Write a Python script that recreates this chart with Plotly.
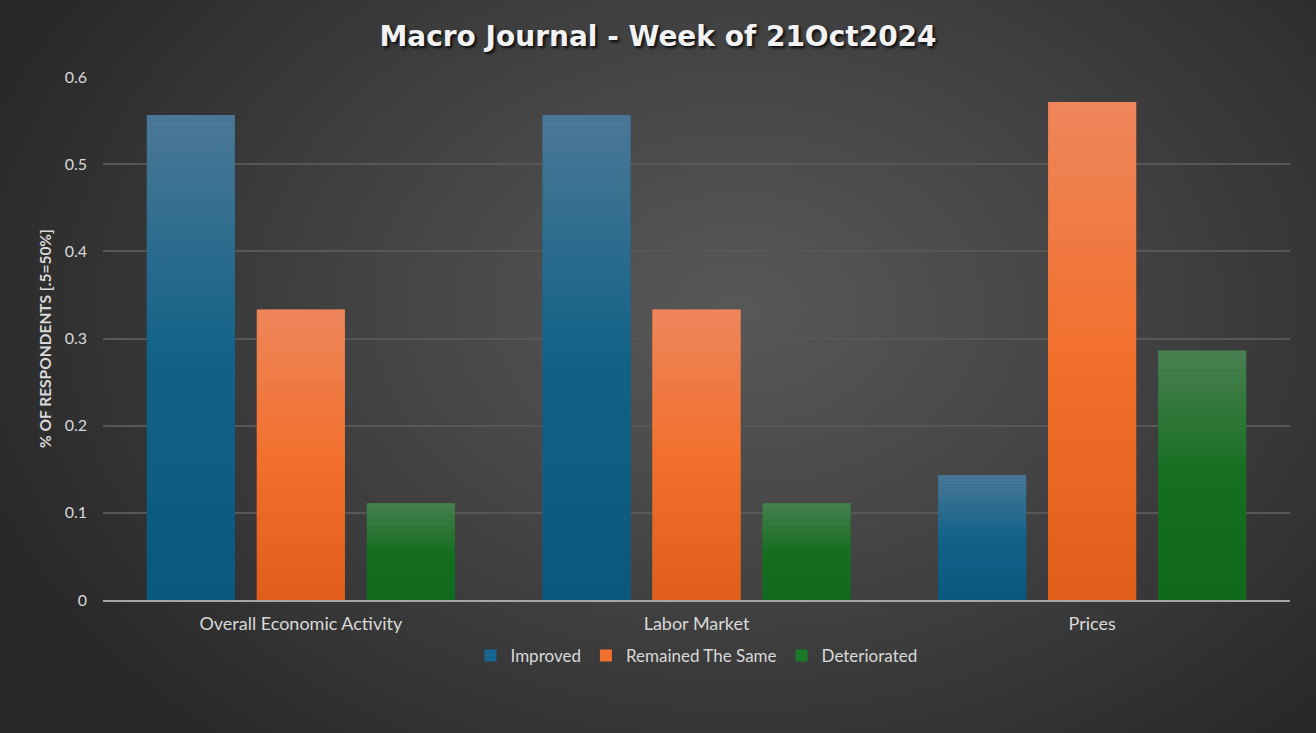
import base64, struct, zlib
import numpy as np
import plotly.graph_objects as go

# ---------------- data ----------------
categories = ["Overall Economic Activity", "Labor Market", "Prices"]
improved = [0.556, 0.556, 0.143]
remained = [0.333, 0.333, 0.571]
deteriorated = [0.111, 0.111, 0.286]
series_names = ["Improved", "Remained The Same", "Deteriorated"]
y_ticks = [0, 0.1, 0.2, 0.3, 0.4, 0.5, 0.6]
y_tick_labels = ["0", "0.1", "0.2", "0.3", "0.4", "0.5", "0.6"]

# gradient stops (bottom, mid, top) per series
grad = {
    "Improved": [(10, 88, 124), (18, 98, 136), (76, 120, 150)],
    "Remained The Same": [(224, 94, 24), (242, 112, 45), (238, 134, 92)],
    "Deteriorated": [(16, 104, 28), (22, 110, 32), (74, 128, 82)],
}
legend_colors = {"Improved": "#176590", "Remained The Same": "#f07030", "Deteriorated": "#1b7a2a"}

W, H = 1316, 733
L, R, T, B = 103, 26, 77, 133
pw, ph = W - L - R, H - T - B


def png_uri(arr):
    h, w, _ = arr.shape
    raw = b"".join(b"\x00" + arr[i].tobytes() for i in range(h))

    def chunk(t, d):
        return struct.pack(">I", len(d)) + t + d + struct.pack(">I", zlib.crc32(t + d) & 0xffffffff)

    png = (b"\x89PNG\r\n\x1a\n" + chunk(b"IHDR", struct.pack(">IIBBBBB", w, h, 8, 2, 0, 0, 0))
           + chunk(b"IDAT", zlib.compress(raw, 9)) + chunk(b"IEND", b""))
    return "data:image/png;base64," + base64.b64encode(png).decode()


# radial background
gw, gh = 658, 367
yy, xx = np.mgrid[0:gh, 0:gw]
cx, cy = 0.56 * gw, 0.42 * gh
d = np.sqrt(((xx - cx) / gw) ** 2 + ((yy - cy) / gh) ** 2 * 0.6)
d = np.clip(d / 0.62, 0, 1)
lum = 88 - 48 * d ** 1.1
img = np.repeat(lum[:, :, None], 3, axis=2).astype(np.uint8)
bg_uri = png_uri(img)


def lerp(c1, c2, t):
    return tuple(int(round(a + (b - a) * t)) for a, b in zip(c1, c2))


def color_at(stops, t):
    # t: 0 bottom, 1 top
    if t < 0.5:
        return lerp(stops[0], stops[1], t / 0.5)
    return lerp(stops[1], stops[2], (t - 0.5) / 0.5)


fig = go.Figure()
N = 40
values = {"Improved": improved, "Remained The Same": remained, "Deteriorated": deteriorated}
for name in series_names:
    vals = values[name]
    fig.add_trace(go.Bar(
        x=categories, y=vals, name=name, offsetgroup=name,
        marker=dict(color=legend_colors[name], line=dict(width=0)),
        hovertemplate="%{x}<br>" + name + ": %{y}<extra></extra>",
    ))
    for k in range(N):
        c = color_at(grad[name], (k + 0.5) / N)
        fig.add_trace(go.Bar(
            x=categories, y=[v / N * 1.02 for v in vals], base=[v * k / N for v in vals],
            offsetgroup=name, showlegend=False, hoverinfo="skip",
            marker=dict(color="rgb(%d,%d,%d)" % c, line=dict(width=0)),
        ))

font_main = "Lato, 'Open Sans', sans-serif"
fig.update_layout(
    width=W, height=H,
    margin=dict(l=L, r=R, t=T, b=B),
    paper_bgcolor="#2e2e2e",
    plot_bgcolor="rgba(0,0,0,0)",
    barmode="group", bargap=0.166, bargroupgap=0.2,
    title=dict(
        text="<b>Macro Journal - Week of 21Oct2024</b>",
        x=0.5, xref="container", xanchor="center", y=0.95, yanchor="middle",
        font=dict(family="'DejaVu Sans', sans-serif", size=28, color="#f2f2f2",
                  shadow="2px 2px 3px rgba(0,0,0,0.85)"),
    ),
    font=dict(family=font_main, color="#d9d9d9", size=17),
    showlegend=True,
    legend=dict(orientation="h", x=0.5, xanchor="center", y=-56 / ph, yanchor="middle",
                font=dict(size=17, color="#d9d9d9"), bgcolor="rgba(0,0,0,0)",
                traceorder="normal", itemwidth=30),
    images=[dict(source=bg_uri, xref="paper", yref="paper",
                 x=-L / pw, y=1 + T / ph, sizex=W / pw, sizey=H / ph,
                 xanchor="left", yanchor="top", sizing="stretch", layer="below")],
    xaxis=dict(showgrid=False, showline=True, linecolor="#a6a6a6", linewidth=2,
               ticks="", tickfont=dict(size=18, color="#d9d9d9"), zeroline=False,
               ticklabelstandoff=6),
    yaxis=dict(range=[0, 0.6], tickvals=y_ticks, ticktext=y_tick_labels,
               showgrid=True, gridcolor="#575757", gridwidth=1.5, zeroline=False,
               showline=False, ticks="", tickfont=dict(size=16, color="#d9d9d9"),
               ticklabelstandoff=15,
               title=dict(text="<b>% OF RESPONDENTS [.5=50%]</b>", standoff=9,
                          font=dict(size=15.5, color="#d9d9d9"))),
)

fig.write_html("out.html", config={"displayModeBar": False},
               post_script="document.body.style.margin='0';document.body.style.overflow='hidden';")
